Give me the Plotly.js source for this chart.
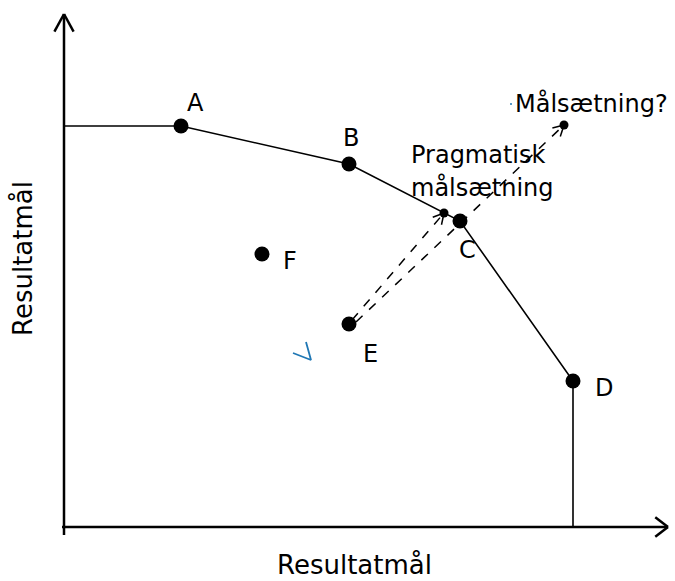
<!DOCTYPE html>
<html><head><meta charset="utf-8">
<script src="https://cdn.plot.ly/plotly-3.0.1.min.js"></script>
<style>html,body{margin:0;padding:0;background:#fff}#c{width:675px;height:581px}</style>
</head><body><div id="c"></div>
<script>
// Data (chart units, origin at axis corner)
const pointNames = ['A','B','C','D','E','F'];
const pointX = [117, 285, 396, 509, 285, 198];
const pointY = [401, 363, 306, 146, 203, 273];
const frontierX = [0, 117, 285, 396, 509, 509];
const frontierY = [401, 401, 363, 306, 146, 0];
const pragX = [380], pragY = [314];
const goalX = [500], goalY = [402];
const axisXEnd = 604, axisYEnd = 513;
const checkX = [229, 247, 242], checkY = [174, 167, 185];
const axisTitle = 'Resultatmål';
const pragLabel = ['Pragmatisk', 'målsætning'];
const goalLabel = 'Målsætning?';

const FONT = 'DejaVu Sans, sans-serif';
const FS = 24, FT = 26;
const traces = [];
const shapes = [];
function line(x0,y0,x1,y1,w,dash){shapes.push({type:'line',xref:'x',yref:'y',x0,y0,x1,y1,line:{color:'#000',width:w,dash:dash||'solid'}});}
function chevron(x0,y0,x1,y1,len,ang,w){
  const a=Math.atan2(y1-y0,x1-x0);
  [ang,-ang].forEach(d=>{
    const b=a+Math.PI+d;
    line(x1,y1,x1+len*Math.cos(b),y1+len*Math.sin(b),w);
  });
}
// axes
line(0,-8,0,axisYEnd,2.5); chevron(0,0,0,axisYEnd,20,0.5,2.5);
line(-2,0,axisXEnd,0,2.5); chevron(0,0,axisXEnd,0,16,0.65,2.5);
// frontier
traces.push({x:frontierX,y:frontierY,mode:'lines',line:{color:'#000',width:1.6},hoverinfo:'skip'});
// dashed arrows from E
const ex=pointX[4], ey=pointY[4];
line(ex+3,ey+4,pragX[0],pragY[0],1.5,'dash'); chevron(ex+3,ey+4,pragX[0],pragY[0],12,0.5,1.5);
line(ex+7,ey+2,goalX[0],goalY[0],1.5,'dash'); chevron(ex+7,ey+2,goalX[0],goalY[0],12,0.5,1.5);
// points
traces.push({x:pointX,y:pointY,mode:'markers',marker:{color:'#000',size:15},hoverinfo:'skip'});
traces.push({x:pragX.concat(goalX),y:pragY.concat(goalY),mode:'markers',marker:{color:'#000',size:9},hoverinfo:'skip'});
// blue mark
traces.push({x:checkX,y:checkY,mode:'lines',line:{color:'#1f77b4',width:1.8},hoverinfo:'skip'});
traces.push({x:[goalX[0]-53],y:[goalY[0]+21],mode:'markers',marker:{color:'#1f77b4',size:2},hoverinfo:'skip'});

const offs = [[14,23],[2,26],[7,-29],[31,-7],[21,-30],[28,-7]];
const f = s=>({family:FONT,size:s,color:'#000'});
const base = {showarrow:false,borderpad:0,yanchor:'middle'};
const ann = pointNames.map((n,i)=>Object.assign({x:pointX[i]+offs[i][0],y:pointY[i]+offs[i][1],text:n,xanchor:'center',font:f(FS)},base));
ann.push(Object.assign({x:346,y:372,text:pragLabel[0],xanchor:'left',font:f(FS)},base));
ann.push(Object.assign({x:346,y:340,text:pragLabel[1],xanchor:'left',font:f(FS)},base));
ann.push(Object.assign({x:goalX[0]-50,y:goalY[0]+22,text:goalLabel,xanchor:'left',font:f(FS)},base));
ann.push(Object.assign({x:290,y:-38,text:axisTitle,xanchor:'center',font:f(FT)},base));
ann.push(Object.assign({x:-41,y:268,text:axisTitle,textangle:-90,xanchor:'center',font:f(FT)},base));

const layout = {
  width:675,height:581,margin:{l:0,r:0,t:0,b:0},
  paper_bgcolor:'#fff',plot_bgcolor:'#fff',showlegend:false,
  xaxis:{range:[-64,611],visible:false,fixedrange:true},
  yaxis:{range:[-54,527],visible:false,fixedrange:true},
  shapes:shapes,annotations:ann
};
Plotly.newPlot('c',traces,layout,{staticPlot:true,displayModeBar:false});
</script></body></html>
